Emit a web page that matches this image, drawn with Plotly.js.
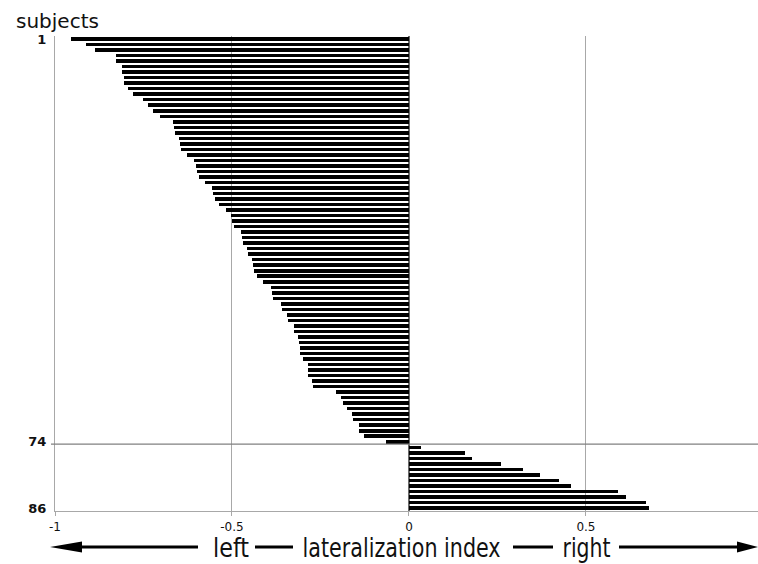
<!DOCTYPE html>
<html>
<head>
<meta charset="utf-8">
<script src="https://cdn.plot.ly/plotly-3.0.1.min.js"></script>
<style>html,body{margin:0;padding:0;background:#fff;}#chart{width:758px;height:564px;}</style>
</head>
<body>
<div id="chart"></div>
<script>
// Lateralization index per subject (subjects 1..74 left-lateralized, 75..86 right)
const leftValues = [
  -0.956, -0.912, -0.887, -0.829, -0.827, -0.812, -0.810, -0.805, -0.805, -0.795,
  -0.779, -0.751, -0.736, -0.724, -0.703, -0.668, -0.665, -0.662, -0.651, -0.647,
  -0.643, -0.628, -0.608, -0.603, -0.598, -0.592, -0.576, -0.556, -0.555, -0.547,
  -0.537, -0.517, -0.504, -0.501, -0.494, -0.475, -0.472, -0.470, -0.458, -0.456,
  -0.443, -0.442, -0.438, -0.430, -0.412, -0.389, -0.388, -0.384, -0.362, -0.358,
  -0.344, -0.342, -0.326, -0.324, -0.314, -0.310, -0.308, -0.307, -0.299, -0.286,
  -0.284, -0.284, -0.273, -0.270, -0.206, -0.193, -0.187, -0.176, -0.160, -0.157,
  -0.141, -0.140, -0.126, -0.065
];
const rightValues = [0.033, 0.158, 0.179, 0.261, 0.323, 0.369, 0.423, 0.457, 0.591, 0.614, 0.670, 0.677];
const xTickVals = [-1, -0.5, 0, 0.5];
const xTickText = ['-1', '-0.5', '0', '0.5'];
const yTickVals = [1, 74, 86];
const yTickText = ['1', '74', '86'];
const bottomLabels = ['left', 'lateralization index', 'right'];

const values = leftValues.concat(rightValues);
const subjects = values.map((v, i) => i + 1);

const baseFont = '"DejaVu Sans", "Noto Sans", sans-serif';

const trace = {
  type: 'bar', orientation: 'h',
  x: values, y: subjects, base: 0,
  width: 0.64,
  marker: {color: '#000', line: {width: 0}},
  hoverinfo: 'x+y'
};

// pixel helpers for decoration placement (plot area 55..758 x, 36..511 y)
const px = p => (p - 55) / 703;
const py = p => (511 - p) / 475;
const ay = py(547), ah = 5.5 / 475;

// target pixel spans of the bottom labels (reference uses a condensed face)
const labelCenters = [230.5, 401, 586];
const labelWidths = [36, 198, 48];

const layout = {
  width: 758, height: 564,
  margin: {l: 55, r: 0, t: 36, b: 53},
  paper_bgcolor: '#fff', plot_bgcolor: '#fff',
  showlegend: false,
  bargap: 0,
  xaxis: {
    range: [-1, 0.986], tickvals: xTickVals, ticktext: xTickText,
    showgrid: true, gridcolor: '#a8a8a8', gridwidth: 1,
    zeroline: true, zerolinecolor: '#6a6a6a', zerolinewidth: 1.2,
    showline: true, linecolor: '#a8a8a8', linewidth: 1,
    ticks: 'outside', ticklen: 4, tickcolor: '#a8a8a8', ticklabelstandoff: 1,
    tickfont: {family: baseFont, size: 12, color: '#111'}
  },
  yaxis: {
    range: [86.55, 0.45], tickvals: yTickVals, ticktext: yTickText,
    showgrid: false, zeroline: false,
    showline: true, linecolor: '#a8a8a8', linewidth: 1,
    ticks: '', ticklabelstandoff: 5,
    tickfont: {family: baseFont, size: 13, color: '#111', weight: 'bold'}
  },
  shapes: [
    {type: 'line', xref: 'paper', yref: 'y', x0: px(51), x1: 1, y0: 74.42, y1: 74.42,
     line: {color: '#808080', width: 1.2}},
    // bottom arrow decoration
    {type: 'line', xref: 'paper', yref: 'paper', x0: px(80), x1: px(198), y0: ay, y1: ay, line: {color: '#000', width: 3.2}},
    {type: 'path', xref: 'paper', yref: 'paper',
     path: `M ${px(50)} ${ay} L ${px(82)} ${ay + ah} L ${px(82)} ${ay - ah} Z`, fillcolor: '#000', line: {width: 0}},
    {type: 'line', xref: 'paper', yref: 'paper', x0: px(255), x1: px(293), y0: ay, y1: ay, line: {color: '#000', width: 3.2}},
    {type: 'line', xref: 'paper', yref: 'paper', x0: px(513), x1: px(553), y0: ay, y1: ay, line: {color: '#000', width: 3.2}},
    {type: 'line', xref: 'paper', yref: 'paper', x0: px(619), x1: px(740), y0: ay, y1: ay, line: {color: '#000', width: 3.2}},
    {type: 'path', xref: 'paper', yref: 'paper',
     path: `M ${px(758)} ${ay} L ${px(737)} ${ay + ah} L ${px(737)} ${ay - ah} Z`, fillcolor: '#000', line: {width: 0}}
  ],
  annotations: [
    {text: 'subjects', xref: 'paper', yref: 'paper', x: px(14), y: py(21), xanchor: 'left', yanchor: 'middle',
     showarrow: false, font: {family: baseFont, size: 20, color: '#111'}}
  ].concat(bottomLabels.map((t, i) => ({
     text: t, xref: 'paper', yref: 'paper', x: px(labelCenters[i]), y: py(548), xanchor: 'center', yanchor: 'middle',
     showarrow: false, borderpad: 0, font: {family: baseFont, size: 26, color: '#111'}
  })))
};

Plotly.newPlot('chart', [trace], layout, {staticPlot: true, displayModeBar: false}).then(gd => {
  // compress the bottom labels horizontally to the condensed widths of the reference
  gd.querySelectorAll('.annotation-text').forEach(el => {
    const i = bottomLabels.indexOf(el.textContent);
    if (i >= 0) {
      el.setAttribute('textLength', labelWidths[i]);
      el.setAttribute('lengthAdjust', 'spacingAndGlyphs');
    }
  });
});
</script>
</body>
</html>
